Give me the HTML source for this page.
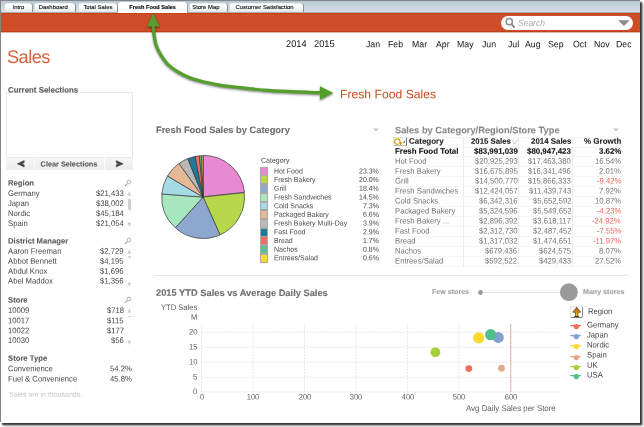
<!DOCTYPE html><html><head><meta charset="utf-8"><title>Sales</title><style>
html,body{margin:0;padding:0;background:#fff;}
body{width:644px;height:427px;overflow:hidden;position:relative;font-family:"Liberation Sans",Arial,sans-serif;}
.t{position:absolute;white-space:nowrap;z-index:2;}
.a{position:absolute;}
#frame{position:absolute;left:0;top:0;width:639.8px;height:422.5px;background:#fff;box-shadow:2px 1.5px 1.3px 0 rgba(0,0,0,0.66),3px 3px 2.5px 0 rgba(0,0,0,0.33);overflow:hidden;}
.tab{position:absolute;top:2.8px;height:9.7px;border-radius:3px 3px 0 0;background:linear-gradient(#ffffff 0%,#ffffff 30%,#e3e6e8 100%);box-shadow:inset 1px 0 0 #d5dade,inset -1px 0 0 #8b9197,inset 0 1px 0 #eef1f3;box-sizing:border-box;font-size:5.95px;line-height:9.7px;color:#111;-webkit-text-stroke:0.12px;white-space:nowrap;}
.tab.act{top:2px;height:10.5px;background:#fff;font-weight:bold;font-size:5.6px;color:#000;line-height:10px;box-shadow:inset -1px 0 0 #9aa0a6;}
</style></head><body>
<div id="frame">
<div class="a" style="left:0;top:0;width:640px;height:13px;background:linear-gradient(#b6c6d0 0,#b9c9d3 1.5px,#c7d4dc 6.5px,#d7dfe5 12px);"></div>
<div class="a" style="left:0;top:0;width:640px;height:1px;background:#848689;"></div>
<div class="a" style="left:0;top:12px;width:640px;height:1px;background:#adafb4;"></div>
<div class="a" style="left:0;top:13px;width:640px;height:19px;background-color:#d1502a;background-image:radial-gradient(circle at 1px 1px,rgba(170,50,10,.34) 0.35px,transparent 1.05px),radial-gradient(circle at 3px 3px,rgba(170,50,10,.34) 0.35px,transparent 1.05px);background-size:4px 4px;box-shadow:inset 0 1px 0 rgba(170,50,10,.35),inset 0 -1px 0 rgba(170,50,10,.45);"></div>
<div class="a" style="left:0;top:32px;width:640px;height:1px;background:rgba(203,70,30,0.42);"></div>
<div class="tab" style="left:3.5px;width:29.5px;padding-left:9.0px;">Intro</div>
<div class="tab" style="left:33.6px;width:42.9px;padding-left:5.2px;">Dashboard</div>
<div class="tab" style="left:77.8px;width:39.9px;padding-left:5.6px;">Total Sales</div>
<div class="tab act" style="left:118.2px;width:69.8px;padding-left:11.1px;">Fresh Food Sales</div>
<div class="tab" style="left:188.8px;width:38.9px;padding-left:3.4px;">Store Map</div>
<div class="tab" style="left:229px;width:75.2px;padding-left:6.5px;">Customer Satisfaction</div>
<div class="a" style="left:500.6px;top:15.6px;width:132.2px;height:14.2px;border-radius:7.1px;background:#fff;"></div>
<svg class="a" style="left:504px;top:16px" width="14" height="13" viewBox="0 0 14 13"><circle cx="5.3" cy="5.7" r="3.1" fill="none" stroke="#8e8e8e" stroke-width="1.5"/><path d="M7.6 8.2 L10 11" stroke="#8e8e8e" stroke-width="2" stroke-linecap="round"/></svg>
<div class="t" style="left:518px;top:17px;font-size:8.5px;line-height:10px;color:#a6a6a6;font-weight:normal;font-style:italic;transform:translateY(0.8px) rotate(0.03deg) scaleY(1.05);">Search</div>
<svg class="a" style="left:617px;top:19px" width="14" height="8" viewBox="0 0 14 8"><path d="M1 1.3 L12.8 1.3 L6.9 7 Z" fill="#8c8c8c"/></svg>
<div class="a" style="left:0;top:0;width:1px;height:422px;background:#858585;"></div>
<div class="t" style="left:285.7px;top:38px;font-size:9.25px;line-height:10px;color:#151515;font-weight:normal;transform:translateY(0.8px) rotate(0.03deg) scaleY(1.05);">2014</div>
<div class="t" style="left:313.7px;top:38px;font-size:9.25px;line-height:10px;color:#151515;font-weight:normal;transform:translateY(0.8px) rotate(0.03deg) scaleY(1.05);">2015</div>
<div class="t" style="left:366.3px;top:39px;font-size:8.75px;line-height:10px;color:#151515;font-weight:normal;transform:translateY(0.0px) rotate(0.03deg) scaleY(1.05);">Jan</div>
<div class="t" style="left:388.2px;top:39px;font-size:8.75px;line-height:10px;color:#151515;font-weight:normal;transform:translateY(0.0px) rotate(0.03deg) scaleY(1.05);">Feb</div>
<div class="t" style="left:411.8px;top:39px;font-size:8.75px;line-height:10px;color:#151515;font-weight:normal;transform:translateY(0.0px) rotate(0.03deg) scaleY(1.05);">Mar</div>
<div class="t" style="left:436.1px;top:39px;font-size:8.75px;line-height:10px;color:#151515;font-weight:normal;transform:translateY(0.0px) rotate(0.03deg) scaleY(1.05);">Apr</div>
<div class="t" style="left:457px;top:39px;font-size:8.75px;line-height:10px;color:#151515;font-weight:normal;transform:translateY(0.0px) rotate(0.03deg) scaleY(1.05);">May</div>
<div class="t" style="left:481.9px;top:39px;font-size:8.75px;line-height:10px;color:#151515;font-weight:normal;transform:translateY(0.0px) rotate(0.03deg) scaleY(1.05);">Jun</div>
<div class="t" style="left:507.7px;top:39px;font-size:8.75px;line-height:10px;color:#151515;font-weight:normal;transform:translateY(0.0px) rotate(0.03deg) scaleY(1.05);">Jul</div>
<div class="t" style="left:525.4px;top:39px;font-size:8.75px;line-height:10px;color:#151515;font-weight:normal;transform:translateY(0.0px) rotate(0.03deg) scaleY(1.05);">Aug</div>
<div class="t" style="left:548px;top:39px;font-size:8.75px;line-height:10px;color:#151515;font-weight:normal;transform:translateY(0.0px) rotate(0.03deg) scaleY(1.05);">Sep</div>
<div class="t" style="left:572.9px;top:39px;font-size:8.75px;line-height:10px;color:#151515;font-weight:normal;transform:translateY(0.0px) rotate(0.03deg) scaleY(1.05);">Oct</div>
<div class="t" style="left:593.7px;top:39px;font-size:8.75px;line-height:10px;color:#151515;font-weight:normal;transform:translateY(0.0px) rotate(0.03deg) scaleY(1.05);">Nov</div>
<div class="t" style="left:616.4px;top:39px;font-size:8.75px;line-height:10px;color:#151515;font-weight:normal;transform:translateY(0.0px) rotate(0.03deg) scaleY(1.05);">Dec</div>
<div class="t" style="left:7.1px;top:45px;font-size:18.2px;line-height:22px;color:#da6140;font-weight:normal;transform:translateY(0.9px) rotate(0.03deg);letter-spacing:-0.55px;">Sales</div>
<div class="t" style="left:8px;top:85px;font-size:7.9px;line-height:10px;color:#5c5c5c;font-weight:bold;transform:translateY(0.6px) rotate(0.03deg);-webkit-text-stroke:0.1px;">Current Selections</div>
<div class="a" style="left:6px;top:92px;width:126.5px;height:65.5px;border:1px solid #e9e9e9;box-sizing:border-box;"></div>
<div class="a" style="left:6px;top:157.5px;width:126.5px;height:12.1px;background:linear-gradient(#f6f6f6,#ececec);"></div>
<div class="a" style="left:33.5px;top:157px;width:1px;height:12.5px;background:#fafafa;"></div>
<div class="a" style="left:104px;top:157px;width:1px;height:12.5px;background:#fafafa;"></div>
<div class="t" style="left:-31.5px;width:200px;text-align:center;top:159px;font-size:7.3px;line-height:10px;color:#5a5a5a;font-weight:bold;transform:translateY(0.5px) rotate(0.03deg);-webkit-text-stroke:0.1px;">Clear Selections</div>
<svg class="a" style="left:0;top:0" width="644" height="427"><path d="M24.2 160.6 L17.2 163.8 L24.2 167 L24.2 164.8 L21.8 163.8 L24.2 162.8 Z" fill="#454545" stroke="#454545" stroke-width="0.5" stroke-linejoin="round"/><path d="M116.2 160.6 L123.2 163.8 L116.2 167 L116.2 164.8 L118.6 163.8 L116.2 162.8 Z" fill="#454545" stroke="#454545" stroke-width="0.5" stroke-linejoin="round"/></svg>
<div class="t" style="left:8px;top:178px;font-size:7.7px;line-height:10px;color:#5c5c5c;font-weight:bold;transform:translateY(0.5px) rotate(0.03deg);-webkit-text-stroke:0.1px;">Region</div>
<svg class="a" style="left:123.5px;top:179.3px" width="8" height="8" viewBox="0 0 8 8"><circle cx="4.9" cy="3" r="1.9" fill="none" stroke="#adadad" stroke-width="0.9"/><path d="M3.5 4.5 L1 7" stroke="#adadad" stroke-width="1.1"/></svg>
<div class="t" style="left:7.7px;top:188px;font-size:7.7px;line-height:10px;color:#474747;font-weight:normal;transform:translateY(0.9px) rotate(0.03deg) scaleY(1.05);">Germany</div>
<div class="t" style="right:516px;top:188px;font-size:7.7px;line-height:10px;color:#474747;font-weight:normal;transform:translateY(0.9px) rotate(0.03deg) scaleY(1.05);">$21,433</div>
<div class="t" style="left:7.7px;top:198px;font-size:7.7px;line-height:10px;color:#474747;font-weight:normal;transform:translateY(0.9px) rotate(0.03deg) scaleY(1.05);">Japan</div>
<div class="t" style="right:516px;top:198px;font-size:7.7px;line-height:10px;color:#474747;font-weight:normal;transform:translateY(0.9px) rotate(0.03deg) scaleY(1.05);">$38,002</div>
<div class="t" style="left:7.7px;top:208px;font-size:7.7px;line-height:10px;color:#474747;font-weight:normal;transform:translateY(0.9px) rotate(0.03deg) scaleY(1.05);">Nordic</div>
<div class="t" style="right:516px;top:208px;font-size:7.7px;line-height:10px;color:#474747;font-weight:normal;transform:translateY(0.9px) rotate(0.03deg) scaleY(1.05);">$45,184</div>
<div class="t" style="left:7.7px;top:218px;font-size:7.7px;line-height:10px;color:#474747;font-weight:normal;transform:translateY(0.9px) rotate(0.03deg) scaleY(1.05);">Spain</div>
<div class="t" style="right:516px;top:218px;font-size:7.7px;line-height:10px;color:#474747;font-weight:normal;transform:translateY(0.9px) rotate(0.03deg) scaleY(1.05);">$21,054</div>
<svg class="a" style="left:0;top:0" width="644" height="427"><path d="M127.30000000000001 195.8 L131.3 195.8 L129.3 191.3 Z" fill="#cfcfcf"/></svg>
<svg class="a" style="left:0;top:0" width="644" height="427"><path d="M127.30000000000001 222.5 L131.3 222.5 L129.3 227.0 Z" fill="#cfcfcf"/></svg>
<div class="a" style="left:128px;top:199px;width:3px;height:11px;background:#cfcfcf;border-radius:1px;"></div>
<div class="t" style="left:8px;top:236px;font-size:7.7px;line-height:10px;color:#5c5c5c;font-weight:bold;transform:translateY(0.5px) rotate(0.03deg);-webkit-text-stroke:0.1px;">District Manager</div>
<svg class="a" style="left:123.5px;top:237.2px" width="8" height="8" viewBox="0 0 8 8"><circle cx="4.9" cy="3" r="1.9" fill="none" stroke="#adadad" stroke-width="0.9"/><path d="M3.5 4.5 L1 7" stroke="#adadad" stroke-width="1.1"/></svg>
<div class="t" style="left:7.7px;top:246px;font-size:7.7px;line-height:10px;color:#474747;font-weight:normal;transform:translateY(0.6px) rotate(0.03deg) scaleY(1.05);">Aaron Freeman</div>
<div class="t" style="right:516px;top:246px;font-size:7.7px;line-height:10px;color:#474747;font-weight:normal;transform:translateY(0.6px) rotate(0.03deg) scaleY(1.05);">$2,729</div>
<div class="t" style="left:7.7px;top:256px;font-size:7.7px;line-height:10px;color:#474747;font-weight:normal;transform:translateY(0.6px) rotate(0.03deg) scaleY(1.05);">Abbot Bennett</div>
<div class="t" style="right:516px;top:256px;font-size:7.7px;line-height:10px;color:#474747;font-weight:normal;transform:translateY(0.6px) rotate(0.03deg) scaleY(1.05);">$4,195</div>
<div class="t" style="left:7.7px;top:266px;font-size:7.7px;line-height:10px;color:#474747;font-weight:normal;transform:translateY(0.6px) rotate(0.03deg) scaleY(1.05);">Abdul Knox</div>
<div class="t" style="right:516px;top:266px;font-size:7.7px;line-height:10px;color:#474747;font-weight:normal;transform:translateY(0.6px) rotate(0.03deg) scaleY(1.05);">$1,696</div>
<div class="t" style="left:7.7px;top:276px;font-size:7.7px;line-height:10px;color:#474747;font-weight:normal;transform:translateY(0.5px) rotate(0.03deg) scaleY(1.05);">Abel Maddox</div>
<div class="t" style="right:516px;top:276px;font-size:7.7px;line-height:10px;color:#474747;font-weight:normal;transform:translateY(0.5px) rotate(0.03deg) scaleY(1.05);">$1,356</div>
<svg class="a" style="left:0;top:0" width="644" height="427"><path d="M127.30000000000001 253.8 L131.3 253.8 L129.3 249.3 Z" fill="#cfcfcf"/></svg>
<svg class="a" style="left:0;top:0" width="644" height="427"><path d="M127.30000000000001 282.4 L131.3 282.4 L129.3 286.9 Z" fill="#cfcfcf"/></svg>
<div class="a" style="left:128px;top:256.3px;width:3px;height:1.5px;background:#cfcfcf;border-radius:1px;"></div>
<div class="t" style="left:8px;top:295px;font-size:7.7px;line-height:10px;color:#5c5c5c;font-weight:bold;transform:translateY(0.4px) rotate(0.03deg);-webkit-text-stroke:0.1px;">Store</div>
<svg class="a" style="left:123.5px;top:295.8px" width="8" height="8" viewBox="0 0 8 8"><circle cx="4.9" cy="3" r="1.9" fill="none" stroke="#adadad" stroke-width="0.9"/><path d="M3.5 4.5 L1 7" stroke="#adadad" stroke-width="1.1"/></svg>
<div class="t" style="left:7.7px;top:306px;font-size:7.7px;line-height:10px;color:#474747;font-weight:normal;transform:translateY(0.0px) rotate(0.03deg) scaleY(1.05);">10009</div>
<div class="t" style="right:516px;top:306px;font-size:7.7px;line-height:10px;color:#474747;font-weight:normal;transform:translateY(0.0px) rotate(0.03deg) scaleY(1.05);">$718</div>
<div class="t" style="left:7.7px;top:316px;font-size:7.7px;line-height:10px;color:#474747;font-weight:normal;transform:translateY(0.2px) rotate(0.03deg) scaleY(1.05);">10017</div>
<div class="t" style="right:516px;top:316px;font-size:7.7px;line-height:10px;color:#474747;font-weight:normal;transform:translateY(0.2px) rotate(0.03deg) scaleY(1.05);">$115</div>
<div class="t" style="left:7.7px;top:326px;font-size:7.7px;line-height:10px;color:#474747;font-weight:normal;transform:translateY(0.1px) rotate(0.03deg) scaleY(1.05);">10022</div>
<div class="t" style="right:516px;top:326px;font-size:7.7px;line-height:10px;color:#474747;font-weight:normal;transform:translateY(0.1px) rotate(0.03deg) scaleY(1.05);">$177</div>
<div class="t" style="left:7.7px;top:336px;font-size:7.7px;line-height:10px;color:#474747;font-weight:normal;transform:translateY(0.0px) rotate(0.03deg) scaleY(1.05);">10030</div>
<div class="t" style="right:516px;top:336px;font-size:7.7px;line-height:10px;color:#474747;font-weight:normal;transform:translateY(0.0px) rotate(0.03deg) scaleY(1.05);">$56</div>
<svg class="a" style="left:0;top:0" width="644" height="427"><path d="M127.30000000000001 312.8 L131.3 312.8 L129.3 308.3 Z" fill="#cfcfcf"/></svg>
<svg class="a" style="left:0;top:0" width="644" height="427"><path d="M127.30000000000001 340.5 L131.3 340.5 L129.3 345.0 Z" fill="#cfcfcf"/></svg>
<div class="a" style="left:128px;top:315.8px;width:3px;height:1.5px;background:#cfcfcf;border-radius:1px;"></div>
<div class="t" style="left:8px;top:353px;font-size:7.7px;line-height:10px;color:#5c5c5c;font-weight:bold;transform:translateY(0.7px) rotate(0.03deg);-webkit-text-stroke:0.1px;">Store Type</div>
<div class="t" style="left:7.7px;top:364px;font-size:7.7px;line-height:10px;color:#474747;font-weight:normal;transform:translateY(0.2px) rotate(0.03deg) scaleY(1.05);">Convenience</div>
<div class="t" style="right:508.4px;top:364px;font-size:7.7px;line-height:10px;color:#474747;font-weight:normal;transform:translateY(0.2px) rotate(0.03deg) scaleY(1.05);">54.2%</div>
<div class="t" style="left:7.7px;top:374px;font-size:7.7px;line-height:10px;color:#474747;font-weight:normal;transform:translateY(0.3px) rotate(0.03deg) scaleY(1.05);">Fuel &amp; Convenience</div>
<div class="t" style="right:508.4px;top:374px;font-size:7.7px;line-height:10px;color:#474747;font-weight:normal;transform:translateY(0.3px) rotate(0.03deg) scaleY(1.05);">45.8%</div>
<div class="t" style="left:8.5px;top:389px;font-size:7.0px;line-height:10px;color:#c4c4c4;font-weight:normal;transform:translateY(0.6px) rotate(0.03deg) scaleY(1.05);">Sales are in thousands.</div>
<div class="t" style="left:155.5px;top:124px;font-size:9.3px;line-height:12px;color:#6e6e6e;font-weight:bold;transform:translateY(0.0px) rotate(0.03deg);-webkit-text-stroke:0.1px;">Fresh Food Sales by Category</div>
<svg class="a" style="left:372px;top:127.2px" width="8" height="6" viewBox="0 0 8 6"><path d="M1.2 1.5 L6.8 1.5 L4 4.6 Z" fill="#c4c4c4"/></svg>
<svg class="a" style="left:612.3px;top:127.00000000000001px" width="8" height="6" viewBox="0 0 8 6"><path d="M1.2 1.5 L6.8 1.5 L4 4.6 Z" fill="#c4c4c4"/></svg>
<svg class="a" style="left:0;top:0" width="644" height="427"><path d="M203.43 196.73 L203.43 155.33 A41.4 41.4 0 0 1 244.60 192.31 Z" fill="#e78ad2" stroke="#383838" stroke-width="0.7" stroke-linejoin="round"/><path d="M203.10 197.10 L244.26 192.69 A41.4 41.4 0 0 1 220.02 234.89 Z" fill="#b7d84b" stroke="#383838" stroke-width="0.7" stroke-linejoin="round"/><path d="M203.10 197.10 L220.02 234.89 A41.4 41.4 0 0 1 175.33 227.81 Z" fill="#8da7cf" stroke="#383838" stroke-width="0.7" stroke-linejoin="round"/><path d="M203.10 197.10 L175.33 227.81 A41.4 41.4 0 0 1 161.82 193.98 Z" fill="#a8e6bf" stroke="#383838" stroke-width="0.7" stroke-linejoin="round"/><path d="M203.10 197.10 L161.82 193.98 A41.4 41.4 0 0 1 167.47 176.03 Z" fill="#a6dbe6" stroke="#383838" stroke-width="0.7" stroke-linejoin="round"/><path d="M203.10 197.10 L167.47 176.03 A41.4 41.4 0 0 1 178.98 163.45 Z" fill="#e6b896" stroke="#383838" stroke-width="0.7" stroke-linejoin="round"/><path d="M203.10 197.10 L178.98 163.45 A41.4 41.4 0 0 1 187.86 158.61 Z" fill="#b8b8b8" stroke="#383838" stroke-width="0.7" stroke-linejoin="round"/><path d="M203.10 197.10 L187.86 158.61 A41.4 41.4 0 0 1 195.09 156.48 Z" fill="#1f7a99" stroke="#383838" stroke-width="0.7" stroke-linejoin="round"/><path d="M203.10 197.10 L195.09 156.48 A41.4 41.4 0 0 1 199.46 155.86 Z" fill="#f46d5e" stroke="#383838" stroke-width="0.7" stroke-linejoin="round"/><path d="M203.10 197.10 L199.46 155.86 A41.4 41.4 0 0 1 201.54 155.73 Z" fill="#5fbf8f" stroke="#383838" stroke-width="0.7" stroke-linejoin="round"/><path d="M203.10 197.10 L201.54 155.73 A41.4 41.4 0 0 1 203.10 155.70 Z" fill="#ffd92f" stroke="#383838" stroke-width="0.7" stroke-linejoin="round"/></svg>
<div class="t" style="left:260.5px;top:155px;font-size:7.0px;line-height:10px;color:#444;font-weight:normal;transform:translateY(0.6px) rotate(0.03deg) scaleY(1.05);">Category</div>
<div class="a" style="left:259.8px;top:166.80px;width:8.5px;height:8.9px;background:#e78ad2;border:0.5px solid #a8a8a8;box-sizing:border-box;"></div>
<div class="t" style="left:273.8px;top:166px;font-size:7.0px;line-height:9px;color:#4a4a4a;font-weight:normal;transform:translateY(0.3px) rotate(0.03deg) scaleY(1.05);">Hot Food</div>
<div class="t" style="right:261.3px;top:166px;font-size:7.0px;line-height:9px;color:#4a4a4a;font-weight:normal;transform:translateY(0.3px) rotate(0.03deg) scaleY(1.05);">23.3%</div>
<div class="a" style="left:259.8px;top:175.49px;width:8.5px;height:8.9px;background:#b7d84b;border:0.5px solid #a8a8a8;box-sizing:border-box;"></div>
<div class="t" style="left:273.8px;top:174px;font-size:7.0px;line-height:9px;color:#4a4a4a;font-weight:normal;transform:translateY(0.99px) rotate(0.03deg) scaleY(1.05);">Fresh Bakery</div>
<div class="t" style="right:261.3px;top:174px;font-size:7.0px;line-height:9px;color:#4a4a4a;font-weight:normal;transform:translateY(0.99px) rotate(0.03deg) scaleY(1.05);">20.0%</div>
<div class="a" style="left:259.8px;top:184.18px;width:8.5px;height:8.9px;background:#8da7cf;border:0.5px solid #a8a8a8;box-sizing:border-box;"></div>
<div class="t" style="left:273.8px;top:183px;font-size:7.0px;line-height:9px;color:#4a4a4a;font-weight:normal;transform:translateY(0.68px) rotate(0.03deg) scaleY(1.05);">Grill</div>
<div class="t" style="right:261.3px;top:183px;font-size:7.0px;line-height:9px;color:#4a4a4a;font-weight:normal;transform:translateY(0.68px) rotate(0.03deg) scaleY(1.05);">18.4%</div>
<div class="a" style="left:259.8px;top:192.87px;width:8.5px;height:8.9px;background:#a8e6bf;border:0.5px solid #a8a8a8;box-sizing:border-box;"></div>
<div class="t" style="left:273.8px;top:192px;font-size:7.0px;line-height:9px;color:#4a4a4a;font-weight:normal;transform:translateY(0.37px) rotate(0.03deg) scaleY(1.05);">Fresh Sandwiches</div>
<div class="t" style="right:261.3px;top:192px;font-size:7.0px;line-height:9px;color:#4a4a4a;font-weight:normal;transform:translateY(0.37px) rotate(0.03deg) scaleY(1.05);">14.5%</div>
<div class="a" style="left:259.8px;top:201.56px;width:8.5px;height:8.9px;background:#a6dbe6;border:0.5px solid #a8a8a8;box-sizing:border-box;"></div>
<div class="t" style="left:273.8px;top:201px;font-size:7.0px;line-height:9px;color:#4a4a4a;font-weight:normal;transform:translateY(0.06px) rotate(0.03deg) scaleY(1.05);">Cold Snacks</div>
<div class="t" style="right:261.3px;top:201px;font-size:7.0px;line-height:9px;color:#4a4a4a;font-weight:normal;transform:translateY(0.06px) rotate(0.03deg) scaleY(1.05);">7.3%</div>
<div class="a" style="left:259.8px;top:210.25px;width:8.5px;height:8.9px;background:#e6b896;border:0.5px solid #a8a8a8;box-sizing:border-box;"></div>
<div class="t" style="left:273.8px;top:209px;font-size:7.0px;line-height:9px;color:#4a4a4a;font-weight:normal;transform:translateY(0.75px) rotate(0.03deg) scaleY(1.05);">Packaged Bakery</div>
<div class="t" style="right:261.3px;top:209px;font-size:7.0px;line-height:9px;color:#4a4a4a;font-weight:normal;transform:translateY(0.75px) rotate(0.03deg) scaleY(1.05);">6.6%</div>
<div class="a" style="left:259.8px;top:218.94px;width:8.5px;height:8.9px;background:#b8b8b8;border:0.5px solid #a8a8a8;box-sizing:border-box;"></div>
<div class="t" style="left:273.8px;top:218px;font-size:7.0px;line-height:9px;color:#4a4a4a;font-weight:normal;transform:translateY(0.44px) rotate(0.03deg) scaleY(1.05);">Fresh Bakery Multi-Day</div>
<div class="t" style="right:261.3px;top:218px;font-size:7.0px;line-height:9px;color:#4a4a4a;font-weight:normal;transform:translateY(0.44px) rotate(0.03deg) scaleY(1.05);">3.9%</div>
<div class="a" style="left:259.8px;top:227.63px;width:8.5px;height:8.9px;background:#1f7a99;border:0.5px solid #a8a8a8;box-sizing:border-box;"></div>
<div class="t" style="left:273.8px;top:227px;font-size:7.0px;line-height:9px;color:#4a4a4a;font-weight:normal;transform:translateY(0.13px) rotate(0.03deg) scaleY(1.05);">Fast Food</div>
<div class="t" style="right:261.3px;top:227px;font-size:7.0px;line-height:9px;color:#4a4a4a;font-weight:normal;transform:translateY(0.13px) rotate(0.03deg) scaleY(1.05);">2.9%</div>
<div class="a" style="left:259.8px;top:236.32px;width:8.5px;height:8.9px;background:#f46d5e;border:0.5px solid #a8a8a8;box-sizing:border-box;"></div>
<div class="t" style="left:273.8px;top:235px;font-size:7.0px;line-height:9px;color:#4a4a4a;font-weight:normal;transform:translateY(0.82px) rotate(0.03deg) scaleY(1.05);">Bread</div>
<div class="t" style="right:261.3px;top:235px;font-size:7.0px;line-height:9px;color:#4a4a4a;font-weight:normal;transform:translateY(0.82px) rotate(0.03deg) scaleY(1.05);">1.7%</div>
<div class="a" style="left:259.8px;top:245.01px;width:8.5px;height:8.9px;background:#5fbf8f;border:0.5px solid #a8a8a8;box-sizing:border-box;"></div>
<div class="t" style="left:273.8px;top:244px;font-size:7.0px;line-height:9px;color:#4a4a4a;font-weight:normal;transform:translateY(0.51px) rotate(0.03deg) scaleY(1.05);">Nachos</div>
<div class="t" style="right:261.3px;top:244px;font-size:7.0px;line-height:9px;color:#4a4a4a;font-weight:normal;transform:translateY(0.51px) rotate(0.03deg) scaleY(1.05);">0.8%</div>
<div class="a" style="left:259.8px;top:253.70px;width:8.5px;height:8.9px;background:#ffd92f;border:0.5px solid #a8a8a8;box-sizing:border-box;"></div>
<div class="t" style="left:273.8px;top:253px;font-size:7.0px;line-height:9px;color:#4a4a4a;font-weight:normal;transform:translateY(0.2px) rotate(0.03deg) scaleY(1.05);">Entrees/Salad</div>
<div class="t" style="right:261.3px;top:253px;font-size:7.0px;line-height:9px;color:#4a4a4a;font-weight:normal;transform:translateY(0.2px) rotate(0.03deg) scaleY(1.05);">0.6%</div>
<div class="a" style="left:154px;top:275px;width:474px;height:1px;background:#e6e6e6;"></div>
<div class="t" style="left:394.5px;top:124px;font-size:9.3px;line-height:12px;color:#8a8a8a;font-weight:bold;transform:translateY(0.3px) rotate(0.03deg);-webkit-text-stroke:0.1px;">Sales by Category/Region/Store Type</div>
<div class="a" style="left:393px;top:136.5px;width:229px;height:1px;background:#f6f6f6;"></div>
<div class="a" style="left:393px;top:146.5px;width:229px;height:1px;background:#f6f6f6;"></div>
<div class="a" style="left:393px;top:156.3px;width:229px;height:1px;background:#f6f6f6;"></div>
<div class="a" style="left:393px;top:166.2px;width:229px;height:1px;background:#f6f6f6;"></div>
<div class="a" style="left:393px;top:176.1px;width:229px;height:1px;background:#f6f6f6;"></div>
<div class="a" style="left:393px;top:186px;width:229px;height:1px;background:#f6f6f6;"></div>
<div class="a" style="left:393px;top:196px;width:229px;height:1px;background:#f6f6f6;"></div>
<div class="a" style="left:393px;top:206px;width:229px;height:1px;background:#f6f6f6;"></div>
<div class="a" style="left:393px;top:216px;width:229px;height:1px;background:#f6f6f6;"></div>
<div class="a" style="left:393px;top:226px;width:229px;height:1px;background:#f6f6f6;"></div>
<div class="a" style="left:393px;top:236px;width:229px;height:1px;background:#f6f6f6;"></div>
<div class="a" style="left:393px;top:246px;width:229px;height:1px;background:#f6f6f6;"></div>
<div class="a" style="left:393px;top:256px;width:229px;height:1px;background:#f6f6f6;"></div>
<div class="a" style="left:393px;top:266px;width:229px;height:1px;background:#f6f6f6;"></div>
<div class="a" style="left:463.3px;top:136.5px;width:1px;height:130px;background:#ececec;"></div>
<div class="a" style="left:518px;top:136.5px;width:1px;height:130px;background:#ececec;"></div>
<div class="a" style="left:571.6px;top:136.5px;width:1px;height:130px;background:#ececec;"></div>
<div class="a" style="left:393.3px;top:137.3px;width:13.5px;height:9px;border:1px solid #e4e4e4;border-right:1px solid #777;border-bottom:1px solid #b5b5b5;border-radius:1px;box-sizing:border-box;background:#fdfdfd;"></div>
<svg class="a" style="left:0;top:0" width="644" height="427"><path d="M398.6 144 A2.7 2.7 0 1 1 400 141.9" fill="none" stroke="#d9a514" stroke-width="1.35"/><path d="M398.4 142.2 L402.5 142.2 L400.5 145.2 Z" fill="#e38d12"/><rect x="403.6" y="141.4" width="1.5" height="1.2" fill="#333"/></svg>
<div class="t" style="left:409.3px;top:136px;font-size:8.0px;line-height:10px;color:#222;font-weight:bold;transform:translateY(0.7px) rotate(0.03deg);-webkit-text-stroke:0.1px;">Category</div>
<div class="t" style="right:128.8px;top:136px;font-size:7.8px;line-height:10px;color:#222;font-weight:bold;transform:translateY(0.7px) rotate(0.03deg);-webkit-text-stroke:0.1px;">2015 Sales</div>
<svg class="a" style="left:0;top:0" width="644" height="427"><path d="M512.3 139.6 L514.6 144 L517.5 139.2" fill="none" stroke="#b5b5b5" stroke-width="0.7"/></svg>
<div class="t" style="right:68.79999999999995px;top:136px;font-size:7.9px;line-height:10px;color:#222;font-weight:bold;transform:translateY(0.7px) rotate(0.03deg);-webkit-text-stroke:0.1px;">2014 Sales</div>
<div class="t" style="right:18.799999999999955px;top:136px;font-size:8.0px;line-height:10px;color:#222;font-weight:bold;transform:translateY(0.7px) rotate(0.03deg);-webkit-text-stroke:0.1px;">% Growth</div>
<div class="t" style="left:394.5px;top:146px;font-size:7.9px;line-height:10px;color:#111;font-weight:bold;transform:translateY(0.7px) rotate(0.03deg);-webkit-text-stroke:0.1px;">Fresh Food Total</div>
<div class="t" style="right:122.29999999999995px;top:146px;font-size:7.9px;line-height:10px;color:#111;font-weight:bold;transform:translateY(0.7px) rotate(0.03deg);-webkit-text-stroke:0.1px;">$83,991,039</div>
<div class="t" style="right:68.79999999999995px;top:146px;font-size:7.9px;line-height:10px;color:#111;font-weight:bold;transform:translateY(0.7px) rotate(0.03deg);-webkit-text-stroke:0.1px;">$80,947,423</div>
<div class="t" style="right:18.799999999999955px;top:146px;font-size:7.9px;line-height:10px;color:#111;font-weight:bold;transform:translateY(0.7px) rotate(0.03deg);-webkit-text-stroke:0.1px;">3.62%</div>
<div class="t" style="left:394.5px;top:156px;font-size:7.7px;line-height:10px;color:#747474;font-weight:normal;transform:translateY(0.7px) rotate(0.03deg) scaleY(1.05);">Hot Food</div>
<div class="t" style="right:122.29999999999995px;top:156px;font-size:7.7px;line-height:10px;color:#747474;font-weight:normal;transform:translateY(0.7px) rotate(0.03deg) scaleY(1.05);">$20,925,293</div>
<div class="t" style="right:68.79999999999995px;top:156px;font-size:7.7px;line-height:10px;color:#747474;font-weight:normal;transform:translateY(0.7px) rotate(0.03deg) scaleY(1.05);">$17,463,380</div>
<div class="t" style="right:18.799999999999955px;top:156px;font-size:7.7px;line-height:10px;color:#747474;font-weight:normal;transform:translateY(0.7px) rotate(0.03deg) scaleY(1.05);">16.54%</div>
<div class="t" style="left:394.5px;top:166px;font-size:7.7px;line-height:10px;color:#747474;font-weight:normal;transform:translateY(0.6px) rotate(0.03deg) scaleY(1.05);">Fresh Bakery</div>
<div class="t" style="right:122.29999999999995px;top:166px;font-size:7.7px;line-height:10px;color:#747474;font-weight:normal;transform:translateY(0.6px) rotate(0.03deg) scaleY(1.05);">$16,675,895</div>
<div class="t" style="right:68.79999999999995px;top:166px;font-size:7.7px;line-height:10px;color:#747474;font-weight:normal;transform:translateY(0.6px) rotate(0.03deg) scaleY(1.05);">$16,341,496</div>
<div class="t" style="right:18.799999999999955px;top:166px;font-size:7.7px;line-height:10px;color:#747474;font-weight:normal;transform:translateY(0.6px) rotate(0.03deg) scaleY(1.05);">2.01%</div>
<div class="t" style="left:394.5px;top:176px;font-size:7.7px;line-height:10px;color:#747474;font-weight:normal;transform:translateY(0.5px) rotate(0.03deg) scaleY(1.05);">Grill</div>
<div class="t" style="right:122.29999999999995px;top:176px;font-size:7.7px;line-height:10px;color:#747474;font-weight:normal;transform:translateY(0.5px) rotate(0.03deg) scaleY(1.05);">$14,500,770</div>
<div class="t" style="right:68.79999999999995px;top:176px;font-size:7.7px;line-height:10px;color:#747474;font-weight:normal;transform:translateY(0.5px) rotate(0.03deg) scaleY(1.05);">$15,866,333</div>
<div class="t" style="right:18.799999999999955px;top:176px;font-size:7.7px;line-height:10px;color:#f0625a;font-weight:normal;transform:translateY(0.5px) rotate(0.03deg) scaleY(1.05);">-9.42%</div>
<div class="t" style="left:394.5px;top:186px;font-size:7.7px;line-height:10px;color:#747474;font-weight:normal;transform:translateY(0.4px) rotate(0.03deg) scaleY(1.05);">Fresh Sandwiches</div>
<div class="t" style="right:122.29999999999995px;top:186px;font-size:7.7px;line-height:10px;color:#747474;font-weight:normal;transform:translateY(0.4px) rotate(0.03deg) scaleY(1.05);">$12,424,057</div>
<div class="t" style="right:68.79999999999995px;top:186px;font-size:7.7px;line-height:10px;color:#747474;font-weight:normal;transform:translateY(0.4px) rotate(0.03deg) scaleY(1.05);">$11,439,743</div>
<div class="t" style="right:18.799999999999955px;top:186px;font-size:7.7px;line-height:10px;color:#747474;font-weight:normal;transform:translateY(0.4px) rotate(0.03deg) scaleY(1.05);">7.92%</div>
<div class="t" style="left:394.5px;top:196px;font-size:7.7px;line-height:10px;color:#747474;font-weight:normal;transform:translateY(0.4px) rotate(0.03deg) scaleY(1.05);">Cold Snacks</div>
<div class="t" style="right:122.29999999999995px;top:196px;font-size:7.7px;line-height:10px;color:#747474;font-weight:normal;transform:translateY(0.4px) rotate(0.03deg) scaleY(1.05);">$6,342,316</div>
<div class="t" style="right:68.79999999999995px;top:196px;font-size:7.7px;line-height:10px;color:#747474;font-weight:normal;transform:translateY(0.4px) rotate(0.03deg) scaleY(1.05);">$5,652,592</div>
<div class="t" style="right:18.799999999999955px;top:196px;font-size:7.7px;line-height:10px;color:#747474;font-weight:normal;transform:translateY(0.4px) rotate(0.03deg) scaleY(1.05);">10.87%</div>
<div class="t" style="left:394.5px;top:206px;font-size:7.7px;line-height:10px;color:#747474;font-weight:normal;transform:translateY(0.4px) rotate(0.03deg) scaleY(1.05);">Packaged Bakery</div>
<div class="t" style="right:122.29999999999995px;top:206px;font-size:7.7px;line-height:10px;color:#747474;font-weight:normal;transform:translateY(0.4px) rotate(0.03deg) scaleY(1.05);">$5,324,596</div>
<div class="t" style="right:68.79999999999995px;top:206px;font-size:7.7px;line-height:10px;color:#747474;font-weight:normal;transform:translateY(0.4px) rotate(0.03deg) scaleY(1.05);">$5,549,652</div>
<div class="t" style="right:18.799999999999955px;top:206px;font-size:7.7px;line-height:10px;color:#f0625a;font-weight:normal;transform:translateY(0.4px) rotate(0.03deg) scaleY(1.05);">-4.23%</div>
<div class="t" style="left:394.5px;top:216px;font-size:7.7px;line-height:10px;color:#747474;font-weight:normal;transform:translateY(0.4px) rotate(0.03deg) scaleY(1.05);">Fresh Bakery ...</div>
<div class="t" style="right:122.29999999999995px;top:216px;font-size:7.7px;line-height:10px;color:#747474;font-weight:normal;transform:translateY(0.4px) rotate(0.03deg) scaleY(1.05);">$2,896,392</div>
<div class="t" style="right:68.79999999999995px;top:216px;font-size:7.7px;line-height:10px;color:#747474;font-weight:normal;transform:translateY(0.4px) rotate(0.03deg) scaleY(1.05);">$3,618,117</div>
<div class="t" style="right:18.799999999999955px;top:216px;font-size:7.7px;line-height:10px;color:#f0625a;font-weight:normal;transform:translateY(0.4px) rotate(0.03deg) scaleY(1.05);">-24.92%</div>
<div class="t" style="left:394.5px;top:226px;font-size:7.7px;line-height:10px;color:#747474;font-weight:normal;transform:translateY(0.4px) rotate(0.03deg) scaleY(1.05);">Fast Food</div>
<div class="t" style="right:122.29999999999995px;top:226px;font-size:7.7px;line-height:10px;color:#747474;font-weight:normal;transform:translateY(0.4px) rotate(0.03deg) scaleY(1.05);">$2,312,730</div>
<div class="t" style="right:68.79999999999995px;top:226px;font-size:7.7px;line-height:10px;color:#747474;font-weight:normal;transform:translateY(0.4px) rotate(0.03deg) scaleY(1.05);">$2,487,452</div>
<div class="t" style="right:18.799999999999955px;top:226px;font-size:7.7px;line-height:10px;color:#f0625a;font-weight:normal;transform:translateY(0.4px) rotate(0.03deg) scaleY(1.05);">-7.55%</div>
<div class="t" style="left:394.5px;top:236px;font-size:7.7px;line-height:10px;color:#747474;font-weight:normal;transform:translateY(0.4px) rotate(0.03deg) scaleY(1.05);">Bread</div>
<div class="t" style="right:122.29999999999995px;top:236px;font-size:7.7px;line-height:10px;color:#747474;font-weight:normal;transform:translateY(0.4px) rotate(0.03deg) scaleY(1.05);">$1,317,032</div>
<div class="t" style="right:68.79999999999995px;top:236px;font-size:7.7px;line-height:10px;color:#747474;font-weight:normal;transform:translateY(0.4px) rotate(0.03deg) scaleY(1.05);">$1,474,651</div>
<div class="t" style="right:18.799999999999955px;top:236px;font-size:7.7px;line-height:10px;color:#f0625a;font-weight:normal;transform:translateY(0.4px) rotate(0.03deg) scaleY(1.05);">-11.97%</div>
<div class="t" style="left:394.5px;top:246px;font-size:7.7px;line-height:10px;color:#747474;font-weight:normal;transform:translateY(0.4px) rotate(0.03deg) scaleY(1.05);">Nachos</div>
<div class="t" style="right:122.29999999999995px;top:246px;font-size:7.7px;line-height:10px;color:#747474;font-weight:normal;transform:translateY(0.4px) rotate(0.03deg) scaleY(1.05);">$679,436</div>
<div class="t" style="right:68.79999999999995px;top:246px;font-size:7.7px;line-height:10px;color:#747474;font-weight:normal;transform:translateY(0.4px) rotate(0.03deg) scaleY(1.05);">$624,575</div>
<div class="t" style="right:18.799999999999955px;top:246px;font-size:7.7px;line-height:10px;color:#747474;font-weight:normal;transform:translateY(0.4px) rotate(0.03deg) scaleY(1.05);">8.07%</div>
<div class="t" style="left:394.5px;top:256px;font-size:7.7px;line-height:10px;color:#747474;font-weight:normal;transform:translateY(0.4px) rotate(0.03deg) scaleY(1.05);">Entrees/Salad</div>
<div class="t" style="right:122.29999999999995px;top:256px;font-size:7.7px;line-height:10px;color:#747474;font-weight:normal;transform:translateY(0.4px) rotate(0.03deg) scaleY(1.05);">$592,522</div>
<div class="t" style="right:68.79999999999995px;top:256px;font-size:7.7px;line-height:10px;color:#747474;font-weight:normal;transform:translateY(0.4px) rotate(0.03deg) scaleY(1.05);">$429,433</div>
<div class="t" style="right:18.799999999999955px;top:256px;font-size:7.7px;line-height:10px;color:#747474;font-weight:normal;transform:translateY(0.4px) rotate(0.03deg) scaleY(1.05);">27.52%</div>
<div class="t" style="left:155.5px;top:286px;font-size:9.3px;line-height:12px;color:#6e6e6e;font-weight:bold;transform:translateY(0.9px) rotate(0.03deg);-webkit-text-stroke:0.1px;">2015 YTD Sales vs Average Daily Sales</div>
<div class="t" style="right:442.7px;top:302px;font-size:7.6px;line-height:10px;color:#5e5e5e;font-weight:normal;transform:translateY(0.8px) rotate(0.03deg) scaleY(1.05);">YTD Sales</div>
<div class="t" style="right:442.7px;top:312px;font-size:7.6px;line-height:10px;color:#5e5e5e;font-weight:normal;transform:translateY(0.6px) rotate(0.03deg) scaleY(1.05);">M</div>
<svg class="a" style="left:0;top:0" width="644" height="427"><line x1="201.5" y1="332.2" x2="561" y2="332.2" stroke="#dedede" stroke-width="0.7" stroke-dasharray="2 1"/><line x1="201.5" y1="347.3" x2="561" y2="347.3" stroke="#dedede" stroke-width="0.7" stroke-dasharray="2 1"/><line x1="201.5" y1="362.2" x2="561" y2="362.2" stroke="#dedede" stroke-width="0.7" stroke-dasharray="2 1"/><line x1="201.5" y1="377.3" x2="561" y2="377.3" stroke="#dedede" stroke-width="0.7" stroke-dasharray="2 1"/><line x1="201.5" y1="392" x2="561" y2="392" stroke="#dedede" stroke-width="0.7" stroke-dasharray="2 1"/><line x1="201.5" y1="324" x2="201.5" y2="394" stroke="#dedede" stroke-width="0.7" stroke-dasharray="2 1"/><line x1="253.0" y1="324" x2="253.0" y2="394" stroke="#dedede" stroke-width="0.7" stroke-dasharray="2 1"/><line x1="304.5" y1="324" x2="304.5" y2="394" stroke="#dedede" stroke-width="0.7" stroke-dasharray="2 1"/><line x1="356.0" y1="324" x2="356.0" y2="394" stroke="#dedede" stroke-width="0.7" stroke-dasharray="2 1"/><line x1="407.5" y1="324" x2="407.5" y2="394" stroke="#dedede" stroke-width="0.7" stroke-dasharray="2 1"/><line x1="459.0" y1="324" x2="459.0" y2="394" stroke="#dedede" stroke-width="0.7" stroke-dasharray="2 1"/><line x1="510.5" y1="324" x2="510.5" y2="394" stroke="#dedede" stroke-width="0.7" stroke-dasharray="2 1"/><line x1="510.8" y1="324" x2="510.8" y2="392" stroke="#ea9c90" stroke-width="1.1" stroke-dasharray="1.2 0.5"/><circle cx="435.4" cy="352.3" r="4.9" fill="#a8cf38"/><circle cx="468.8" cy="368.6" r="3.4" fill="#f46d5e"/><circle cx="478.7" cy="337.8" r="5.6" fill="#ffd92f"/><circle cx="498.3" cy="337.4" r="5.5" fill="#82a1cf"/><circle cx="490.7" cy="334.7" r="5.6" fill="#52be8a"/><circle cx="501.5" cy="368.2" r="3.4" fill="#e2ab8c"/><line x1="480.5" y1="292.5" x2="565" y2="292.5" stroke="#e2e2e2" stroke-width="1"/><circle cx="480.5" cy="292.5" r="2.4" fill="#9a9a9a"/><circle cx="568.9" cy="292.2" r="8.9" fill="#9a9a9a"/></svg>
<div class="t" style="right:442.7px;top:327px;font-size:7.6px;line-height:10px;color:#5e5e5e;font-weight:normal;transform:translateY(0.4px) rotate(0.03deg) scaleY(1.05);">20</div>
<div class="t" style="right:442.7px;top:342px;font-size:7.6px;line-height:10px;color:#5e5e5e;font-weight:normal;transform:translateY(0.4px) rotate(0.03deg) scaleY(1.05);">15</div>
<div class="t" style="right:442.7px;top:357px;font-size:7.6px;line-height:10px;color:#5e5e5e;font-weight:normal;transform:translateY(0.4px) rotate(0.03deg) scaleY(1.05);">10</div>
<div class="t" style="right:442.7px;top:372px;font-size:7.6px;line-height:10px;color:#5e5e5e;font-weight:normal;transform:translateY(0.4px) rotate(0.03deg) scaleY(1.05);">5</div>
<div class="t" style="right:442.7px;top:386px;font-size:7.6px;line-height:10px;color:#5e5e5e;font-weight:normal;transform:translateY(0.8px) rotate(0.03deg) scaleY(1.05);">0</div>
<div class="t" style="left:200px;top:392px;font-size:7.6px;line-height:10px;color:#5e5e5e;font-weight:normal;transform:translateY(0.4px) rotate(0.03deg) scaleY(1.05);">0</div>
<div class="t" style="left:153.0px;width:200px;text-align:center;top:392px;font-size:7.6px;line-height:10px;color:#5e5e5e;font-weight:normal;transform:translateY(0.4px) rotate(0.03deg) scaleY(1.05);">100</div>
<div class="t" style="left:204.5px;width:200px;text-align:center;top:392px;font-size:7.6px;line-height:10px;color:#5e5e5e;font-weight:normal;transform:translateY(0.4px) rotate(0.03deg) scaleY(1.05);">200</div>
<div class="t" style="left:256.0px;width:200px;text-align:center;top:392px;font-size:7.6px;line-height:10px;color:#5e5e5e;font-weight:normal;transform:translateY(0.4px) rotate(0.03deg) scaleY(1.05);">300</div>
<div class="t" style="left:307.5px;width:200px;text-align:center;top:392px;font-size:7.6px;line-height:10px;color:#5e5e5e;font-weight:normal;transform:translateY(0.4px) rotate(0.03deg) scaleY(1.05);">400</div>
<div class="t" style="left:359.0px;width:200px;text-align:center;top:392px;font-size:7.6px;line-height:10px;color:#5e5e5e;font-weight:normal;transform:translateY(0.4px) rotate(0.03deg) scaleY(1.05);">500</div>
<div class="t" style="left:410.5px;width:200px;text-align:center;top:392px;font-size:7.6px;line-height:10px;color:#5e5e5e;font-weight:normal;transform:translateY(0.4px) rotate(0.03deg) scaleY(1.05);">600</div>
<div class="t" style="right:84px;top:403px;font-size:7.9px;line-height:10px;color:#5e5e5e;font-weight:normal;transform:translateY(0.8px) rotate(0.03deg) scaleY(1.05);">Avg Daily Sales per Store</div>
<div class="t" style="right:170.39999999999998px;top:287px;font-size:7.1px;line-height:10px;color:#a0a0a0;font-weight:bold;transform:translateY(0.0px) rotate(0.03deg);-webkit-text-stroke:0.1px;">Few stores</div>
<div class="t" style="left:583.4px;top:287px;font-size:7.1px;line-height:10px;color:#a0a0a0;font-weight:bold;transform:translateY(0.0px) rotate(0.03deg);-webkit-text-stroke:0.1px;">Many stores</div>
<div class="a" style="left:570.3px;top:305.8px;width:12.3px;height:11.9px;border:1px solid #e2e2e2;border-right-color:#8a8a8a;border-bottom-color:#777;border-radius:2px;box-sizing:border-box;background:#fff;"></div>
<svg class="a" style="left:0;top:0" width="644" height="427"><defs><linearGradient id="ag" x1="0" y1="0" x2="0" y2="1"><stop offset="0" stop-color="#a85a1c"/><stop offset="0.55" stop-color="#d98a1a"/><stop offset="1" stop-color="#ffe11a"/></linearGradient></defs><path d="M576.7 307.2 L580.7 312.3 L578 312.3 L578 316.2 L575.5 316.2 L575.5 312.3 L572.7 312.3 Z" fill="url(#ag)" stroke="#3a2a10" stroke-width="0.6" stroke-linejoin="round"/><line x1="574.3" y1="316.5" x2="579.2" y2="316.5" stroke="#222" stroke-width="0.8"/></svg>
<div class="t" style="left:587.8px;top:306px;font-size:7.7px;line-height:10px;color:#444;font-weight:normal;transform:translateY(0.9px) rotate(0.03deg) scaleY(1.05);">Region</div>
<svg class="a" style="left:570px;top:321.3px" width="13" height="9" viewBox="0 0 13 9"><line x1="0.3" y1="4.6" x2="10.8" y2="4.6" stroke="#f46d5e" stroke-width="1.4"/><circle cx="6.3" cy="5.6" r="2.6" fill="#f46d5e"/></svg>
<div class="t" style="left:587px;top:320px;font-size:7.7px;line-height:10px;color:#444;font-weight:normal;transform:translateY(0.3px) rotate(0.03deg) scaleY(1.05);">Germany</div>
<svg class="a" style="left:570px;top:331.3px" width="13" height="9" viewBox="0 0 13 9"><line x1="0.3" y1="4.6" x2="10.8" y2="4.6" stroke="#7e9fd0" stroke-width="1.4"/><circle cx="6.3" cy="5.6" r="2.6" fill="#7e9fd0"/></svg>
<div class="t" style="left:587px;top:330px;font-size:7.7px;line-height:10px;color:#444;font-weight:normal;transform:translateY(0.3px) rotate(0.03deg) scaleY(1.05);">Japan</div>
<svg class="a" style="left:570px;top:341.3px" width="13" height="9" viewBox="0 0 13 9"><line x1="0.3" y1="4.6" x2="10.8" y2="4.6" stroke="#ffd92f" stroke-width="1.4"/><circle cx="6.3" cy="5.6" r="2.6" fill="#ffd92f"/></svg>
<div class="t" style="left:587px;top:340px;font-size:7.7px;line-height:10px;color:#444;font-weight:normal;transform:translateY(0.3px) rotate(0.03deg) scaleY(1.05);">Nordic</div>
<svg class="a" style="left:570px;top:351.5px" width="13" height="9" viewBox="0 0 13 9"><line x1="0.3" y1="4.6" x2="10.8" y2="4.6" stroke="#e5a98a" stroke-width="1.4"/><circle cx="6.3" cy="5.6" r="2.6" fill="#e5a98a"/></svg>
<div class="t" style="left:587px;top:350px;font-size:7.7px;line-height:10px;color:#444;font-weight:normal;transform:translateY(0.5px) rotate(0.03deg) scaleY(1.05);">Spain</div>
<svg class="a" style="left:570px;top:361.6px" width="13" height="9" viewBox="0 0 13 9"><line x1="0.3" y1="4.6" x2="10.8" y2="4.6" stroke="#a8cf38" stroke-width="1.4"/><circle cx="6.3" cy="5.6" r="2.6" fill="#a8cf38"/></svg>
<div class="t" style="left:587px;top:360px;font-size:7.7px;line-height:10px;color:#444;font-weight:normal;transform:translateY(0.6px) rotate(0.03deg) scaleY(1.05);">UK</div>
<svg class="a" style="left:570px;top:371.3px" width="13" height="9" viewBox="0 0 13 9"><line x1="0.3" y1="4.6" x2="10.8" y2="4.6" stroke="#52be8a" stroke-width="1.4"/><circle cx="6.3" cy="5.6" r="2.6" fill="#52be8a"/></svg>
<div class="t" style="left:587px;top:370px;font-size:7.7px;line-height:10px;color:#444;font-weight:normal;transform:translateY(0.3px) rotate(0.03deg) scaleY(1.05);">USA</div>
<svg class="a" style="left:0;top:0;filter:drop-shadow(0.9px 1.1px 0.9px rgba(0,0,0,0.5));" width="644" height="427">
<path d="M153.3 26.1 C153.4 27.7 153.6 32.1 154.1 35.4 C154.6 38.7 155.2 42.7 156.4 46 C157.6 49.3 159.2 52.3 161.1 55.4 C163.0 58.5 165.4 62.0 168.1 64.7 C170.8 67.4 174.0 69.6 177.5 71.7 C181.0 73.8 184.9 75.9 189.2 77.6 C193.5 79.3 198.1 80.5 203.2 81.8 C208.3 83.0 213.5 84.1 219.6 85.1 C225.7 86.1 232.7 86.8 240 87.6 C247.3 88.4 255.6 89.5 263.4 90.1 C271.2 90.7 277.4 91.0 286.8 91.4 C296.2 91.9 314.5 92.6 321 92.7" fill="none" stroke="#569e2b" stroke-width="3.2"/>
<path d="M153 13.2 L159.5 26.5 L147 26.5 Z" fill="#569e2b"/>
<path d="M333.3 92.9 L320 86.2 L320 99.7 Z" fill="#569e2b"/>
</svg>
<div class="t" style="left:340px;top:87px;font-size:12.2px;line-height:14px;color:#d0481f;font-weight:normal;transform:translateY(0.2px) rotate(0.03deg);">Fresh Food Sales</div>
</div>
</body></html>
